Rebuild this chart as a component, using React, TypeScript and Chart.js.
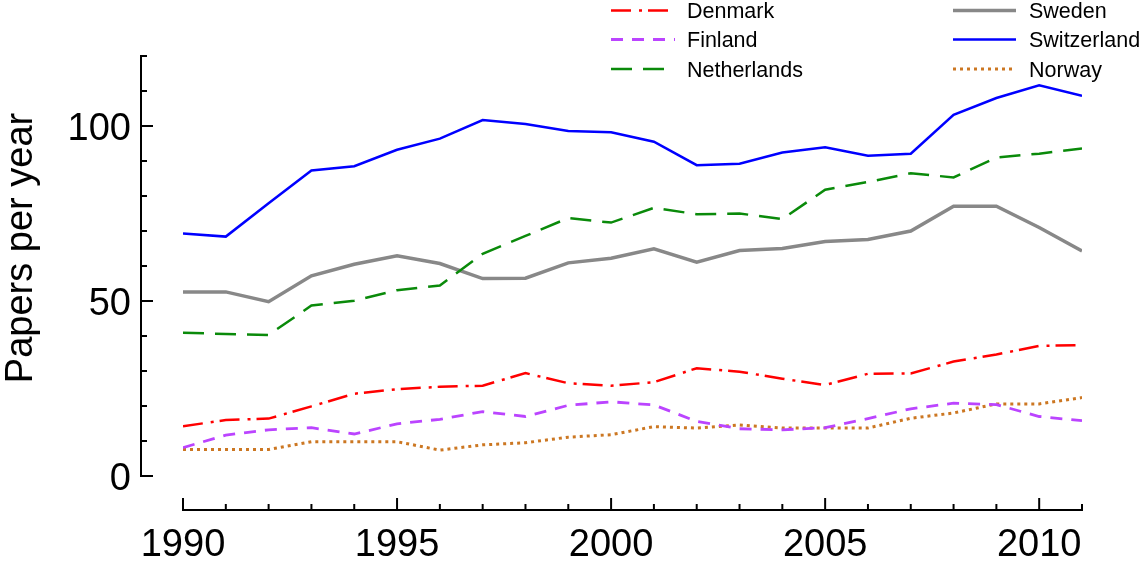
import React, { useEffect, useRef } from "react";
import { Chart, registerables } from "chart.js";

Chart.register(...registerables);

const years = [1990, 1991, 1992, 1993, 1994, 1995, 1996, 1997, 1998, 1999, 2000, 2001, 2002, 2003, 2004, 2005, 2006, 2007, 2008, 2009, 2010, 2011];

const denmark = [14.2, 16.0, 16.4, 19.9, 23.5, 24.8, 25.5, 25.8, 29.4, 26.5, 25.8, 26.8, 30.8, 29.8, 27.8, 26.0, 29.2, 29.3, 32.7, 34.7, 37.2, 37.4];
const finland = [8.1, 11.7, 13.2, 13.8, 12.0, 14.9, 16.2, 18.4, 17.0, 20.2, 21.2, 20.3, 15.6, 13.5, 13.2, 13.8, 16.4, 19.2, 20.8, 20.4, 17.0, 15.8];
const netherlands = [40.9, 40.6, 40.3, 48.7, 50.1, 53.1, 54.4, 63.5, 68.6, 73.7, 72.4, 76.6, 74.8, 75.0, 73.4, 81.8, 84.0, 86.5, 85.3, 91.0, 92.1, 93.6];
const sweden = [52.6, 52.6, 49.8, 57.2, 60.5, 62.9, 60.7, 56.4, 56.5, 60.9, 62.2, 64.9, 61.1, 64.4, 65.0, 67.0, 67.6, 70.0, 77.1, 77.1, 71.0, 64.3];
const switzerland = [69.3, 68.4, 77.9, 87.3, 88.5, 93.2, 96.4, 101.7, 100.6, 98.6, 98.2, 95.5, 88.8, 89.2, 92.4, 93.9, 91.5, 92.1, 103.2, 108.0, 111.6, 108.6];
const norway = [7.6, 7.6, 7.6, 9.8, 9.8, 9.8, 7.4, 8.9, 9.5, 11.1, 11.8, 14.1, 13.7, 14.6, 13.7, 13.7, 13.7, 16.5, 18.0, 20.6, 20.6, 22.4];

const yMajorTicks = [0, 50, 100];
const yMinorStep = 10;
const yMax = 120;
const xMajorTicks = [1990, 1995, 2000, 2005, 2010];
const yTitle = "Papers per year";

const FONT = "'Liberation Sans', Arial, Helvetica, sans-serif";

type Series = { label: string; data: number[]; color: string; dash: number[]; width: number };

const series: Series[] = [
  { label: "Denmark", data: denmark, color: "#ff0000", dash: [20, 8, 3, 6], width: 2.5 },
  { label: "Finland", data: finland, color: "#bb44ff", dash: [12, 9], width: 2.8 },
  { label: "Netherlands", data: netherlands, color: "#0a8a0a", dash: [21, 11], width: 2.5 },
  { label: "Sweden", data: sweden, color: "#888888", dash: [], width: 3.5 },
  { label: "Switzerland", data: switzerland, color: "#0000ff", dash: [], width: 2.5 },
  { label: "Norway", data: norway, color: "#cc7722", dash: [3, 4], width: 3 },
];

const axesPlugin = {
  id: "customAxes",
  afterDraw(chart: any) {
    const ctx = chart.ctx as CanvasRenderingContext2D;
    const xs = chart.scales.x;
    const ys = chart.scales.y;
    const area = chart.chartArea;
    ctx.save();
    ctx.strokeStyle = "#000";
    ctx.fillStyle = "#000";
    ctx.lineWidth = 2;
    ctx.setLineDash([]);

    // Y axis (detached)
    const yAxisX = area.left - 42;
    ctx.beginPath();
    ctx.moveTo(yAxisX, ys.getPixelForValue(0) + 1);
    ctx.lineTo(yAxisX, ys.getPixelForValue(yMax) - 1);
    ctx.stroke();
    for (let v = 0; v <= yMax; v += yMinorStep) {
      const py = ys.getPixelForValue(v);
      const len = yMajorTicks.includes(v) ? 12 : 6;
      ctx.beginPath();
      ctx.moveTo(yAxisX, py);
      ctx.lineTo(yAxisX + len, py);
      ctx.stroke();
    }
    ctx.font = `38px ${FONT}`;
    ctx.textAlign = "right";
    ctx.textBaseline = "alphabetic";
    yMajorTicks.forEach((v) => {
      const py = ys.getPixelForValue(v);
      ctx.fillText(String(v), yAxisX - 10, py + 13.5);
    });

    // X axis (detached)
    const xAxisY = area.bottom + 34;
    ctx.beginPath();
    ctx.moveTo(xs.getPixelForValue(years[0]) - 1, xAxisY);
    ctx.lineTo(xs.getPixelForValue(years[years.length - 1]) + 1, xAxisY);
    ctx.stroke();
    years.forEach((yr) => {
      const px = xs.getPixelForValue(yr);
      const len = xMajorTicks.includes(yr) ? 12 : 6;
      ctx.beginPath();
      ctx.moveTo(px, xAxisY);
      ctx.lineTo(px, xAxisY - len);
      ctx.stroke();
    });
    ctx.textAlign = "center";
    xMajorTicks.forEach((yr) => {
      const px = xs.getPixelForValue(yr);
      ctx.fillText(String(yr), px, xAxisY + 46);
    });

    // Y title
    ctx.save();
    ctx.translate(32, 248);
    ctx.rotate(-Math.PI / 2);
    ctx.textAlign = "center";
    ctx.textBaseline = "alphabetic";
    ctx.font = `38px ${FONT}`;
    ctx.fillText(yTitle, 0, 0);
    ctx.restore();

    // Legend
    const rows = [10.5, 39.5, 69];
    const cols = [
      { x0: 611, x1: 675, tx: 687 },
      { x0: 953, x1: 1016, tx: 1029 },
    ];
    ctx.font = `21.5px ${FONT}`;
    ctx.textAlign = "left";
    chart.data.datasets.forEach((ds: any, i: number) => {
      const col = cols[Math.floor(i / 3)];
      const ry = rows[i % 3];
      ctx.save();
      ctx.strokeStyle = ds.borderColor;
      ctx.lineWidth = ds.borderWidth;
      ctx.setLineDash(ds.borderDash || []);
      ctx.lineCap = "butt";
      ctx.beginPath();
      ctx.moveTo(col.x0, ry);
      ctx.lineTo(col.x1, ry);
      ctx.stroke();
      ctx.restore();
      ctx.fillStyle = "#000";
      ctx.fillText(ds.label, col.tx, ry + 7.7);
    });
    ctx.restore();
  },
};

export default function App() {
  const ref = useRef<HTMLCanvasElement | null>(null);
  useEffect(() => {
    if (!ref.current) return;
    const chart = new Chart(ref.current, {
      type: "line",
      data: {
        datasets: series.map((s) => ({
          label: s.label,
          data: years.map((y, i) => ({ x: y, y: s.data[i] })),
          borderColor: s.color,
          backgroundColor: s.color,
          borderDash: s.dash,
          borderWidth: s.width,
          borderCapStyle: "butt",
          borderJoinStyle: "miter",
          pointRadius: 0,
          tension: 0,
          fill: false,
        })),
      },
      options: {
        responsive: false,
        animation: false,
        events: [],
        layout: { padding: { left: 183, right: 62, top: 56, bottom: 86 } },
        scales: {
          x: { type: "linear", min: 1990, max: 2011, display: false },
          y: { type: "linear", min: 0, max: yMax, display: false },
        },
        plugins: {
          legend: { display: false },
          tooltip: { enabled: false },
          title: { display: false },
        },
      },
      plugins: [axesPlugin],
    } as any);
    return () => chart.destroy();
  }, []);
  return (
    <div style={{ position: "fixed", left: 0, top: 0, width: 1144, height: 562, background: "#fff" }}>
      <canvas ref={ref} width={1144} height={562} style={{ width: 1144, height: 562, display: "block" }} />
    </div>
  );
}
